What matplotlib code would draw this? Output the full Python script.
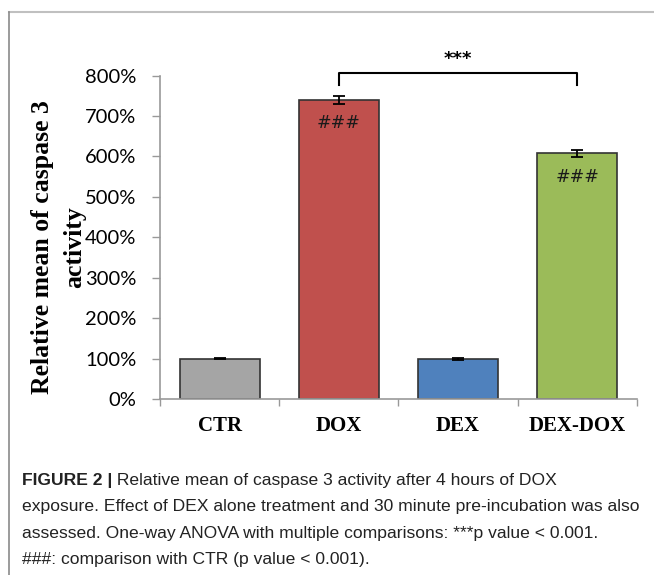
import matplotlib.pyplot as plt
from matplotlib.lines import Line2D
from matplotlib.ticker import FixedLocator, PercentFormatter

# Caspase 3 activity relative to control (%)
groups = ['CTR', 'DOX', 'DEX', 'DEX-DOX']
means = [100, 740, 99, 608]
errors = [2, 9, 1.5, 9]
colors = ['#A5A5A5', '#C0504D', '#4F81BD', '#9BBB59']
vs_ctr = ['', '###', '', '###']
yticks = [0, 100, 200, 300, 400, 500, 600, 700, 800]

caption_bold = 'FIGURE 2 |'
caption_lines = [
    ' Relative mean of caspase 3 activity after 4 hours of DOX',
    'exposure. Effect of DEX alone treatment and 30 minute pre-incubation was also',
    'assessed. One-way ANOVA with multiple comparisons: ***p value < 0.001.',
    '###: comparison with CTR (p value < 0.001).',
]

fig = plt.figure(figsize=(6.54, 5.75), dpi=100)
ax = fig.add_axes([0.2446, 0.306, 0.7294, 0.5625])

x = list(range(len(groups)))
ax.bar(x, means, width=0.67, color=colors, edgecolor='#333333', linewidth=1.2,
       zorder=2)
ax.errorbar(x, means, yerr=errors, fmt='none', ecolor='black', elinewidth=1.3,
            capsize=4, capthick=1.3, zorder=3)

for xi, m, s in zip(x, means, vs_ctr):
    if s:
        ax.text(xi, m - 58, s, ha='center', va='center', fontsize=12.5,
                color='#1a1a1a', family='DejaVu Sans')

# significance bracket DOX vs DEX-DOX
ax.plot([1, 1, 3, 3], [778, 807, 807, 778], color='black', lw=1.5,
        clip_on=False, zorder=3)
ax.text(2, 818, '***', ha='center', va='bottom', fontsize=13,
        fontweight='bold', family='DejaVu Sans')

ax.set_xlim(-0.5, 3.5)
ax.set_ylim(0, 800)
ax.yaxis.set_major_locator(FixedLocator(yticks))
ax.yaxis.set_major_formatter(PercentFormatter(decimals=0))
ax.set_xticks(x)
ax.set_xticklabels(groups, fontsize=15, fontweight='bold',
                   family='Liberation Serif')
ax.xaxis.set_minor_locator(FixedLocator([-0.5, 0.5, 1.5, 2.5, 3.5]))
ax.tick_params(axis='x', which='major', length=0, pad=12)
ax.tick_params(axis='x', which='minor', length=5, width=1, color='#999999',
               direction='out')
ax.tick_params(axis='y', length=6, width=1, color='#999999', pad=11,
               labelsize=14.5)
for lab in ax.get_yticklabels():
    lab.set_family('Lato')

for side in ['top', 'right']:
    ax.spines[side].set_visible(False)
for side in ['left', 'bottom']:
    ax.spines[side].set_color('#999999')
    ax.spines[side].set_linewidth(1.2)

fig.text(58.5 / 654, 1 - 247 / 575, 'Relative mean of caspase 3\nactivity',
         rotation=90, ha='center', va='center', fontsize=18.5,
         fontweight='bold', family='Liberation Serif', linespacing=1.5,
         multialignment='center')

# panel frame
fig.add_artist(Line2D([9 / 654, 1], [1 - 12 / 575, 1 - 12 / 575],
                      color='#c0c0c0', lw=1.5))
fig.add_artist(Line2D([9 / 654, 9 / 654], [0, 1 - 12 / 575],
                      color='#8a8a8a', lw=1.2))

# caption
cap_font = dict(fontsize=12.6, family=['Liberation Sans Narrow', 'Liberation Sans'],
                color='#222222', va='center')
t = fig.text(22 / 654, 1 - 480 / 575, caption_bold, fontweight='bold', **cap_font)
fig.canvas.draw()
bb = t.get_window_extent()
fig.text(bb.x1 / 654, 1 - 480 / 575, caption_lines[0], **cap_font)
for i, line in enumerate(caption_lines[1:], start=1):
    fig.text(22 / 654, 1 - (480 + 26.6 * i) / 575, line, **cap_font)

fig.savefig('out.png', dpi=100)
